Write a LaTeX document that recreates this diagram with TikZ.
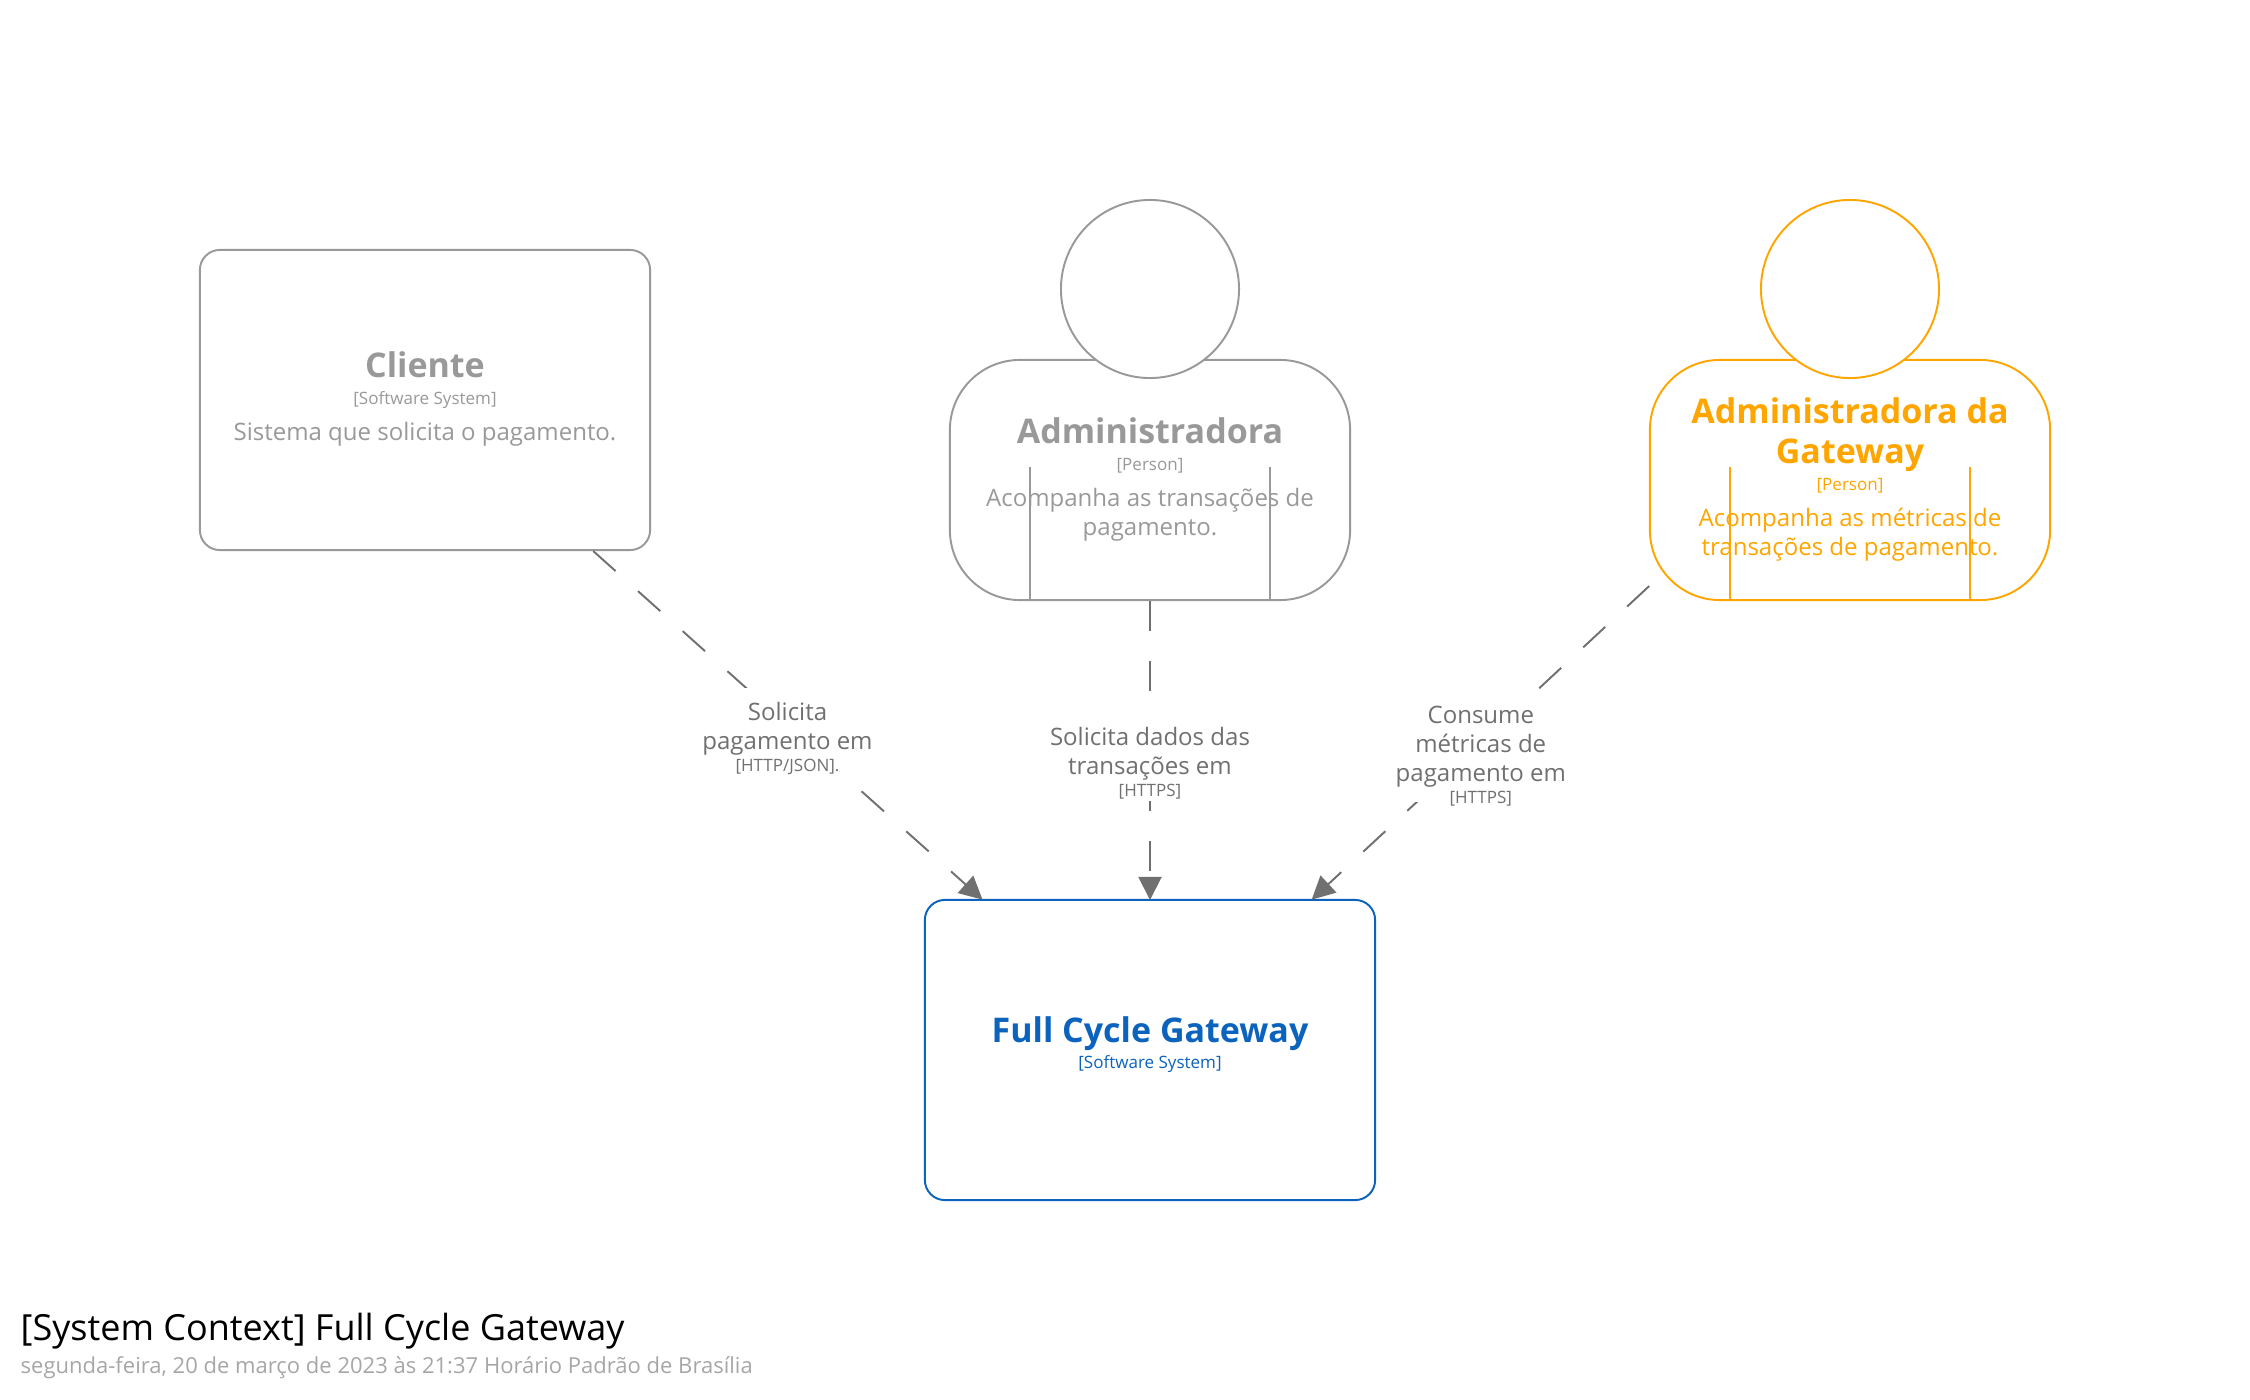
\documentclass[tikz,border=0pt]{standalone}
\usepackage{fontspec}
\setmainfont{Open Sans}
\usetikzlibrary{positioning,arrows.meta}

\definecolor{softgray}{HTML}{999999}
\definecolor{relgray}{HTML}{707070}
\definecolor{gatewayblue}{HTML}{0B63BD}
\definecolor{adminorange}{HTML}{FFA500}
\definecolor{dategray}{HTML}{A6A6A6}

% font sizes, 1 px = 0.01cm
\newcommand{\namefont}{\fontsize{9.67}{11.6}\bfseries\selectfont}
\newcommand{\metafont}{\fontsize{4.84}{7.6}\selectfont}
\newcommand{\descfont}{\fontsize{6.83}{8.25}\selectfont}
\newcommand{\reltechfont}{\fontsize{4.84}{5.8}\selectfont}

\tikzset{
    softbox/.style={draw=#1, text=#1, fill=white, line width=0.55pt, rounded corners=0.2cm,
        minimum width=4.5cm, minimum height=3cm, text width=4.2cm, align=flush center, inner sep=0pt},
    personbody/.style={draw=#1, text=#1, line width=0.55pt, rounded corners=0.7cm,
        minimum width=4cm, minimum height=2.4cm, text width=3.6cm, align=flush center, inner sep=0pt},
    personhead/.style={draw=#1, fill=white, line width=0.55pt, circle, minimum size=1.78cm, inner sep=0pt},
    personbox/.style={minimum width=4cm, minimum height=4cm, inner sep=0pt},
    personarm/.style={draw=#1, line width=0.55pt},
    rel/.style={draw=relgray, line width=0.55pt, dash pattern=on 0.3cm off 0.3cm, shorten >=-0.3pt,
        -{Triangle[length=0.23cm,width=0.23cm,fill=relgray,sep=0pt]}},
    rellabel/.style={text=relgray, fill=white, font=\descfont, align=center, inner xsep=0pt, inner ysep=4.2pt, yshift=-1.2pt},
    reltech/.style={text=relgray, fill=white, font=\reltechfont, inner xsep=0pt, inner ysep=0.5pt}
}

\begin{document}
\begin{tikzpicture}[x=0.01cm, y=-0.01cm]
    \useasboundingbox (0,0) rectangle (2250,1400);

    % Software systems
    \node[softbox=softgray] (cliente) at (425,400) {
        {\namefont Cliente\par}{\metafont [Software System]\par}\vspace{2pt}{\descfont Sistema que solicita o pagamento.\par}\vspace{0.4pt}};
    \node[softbox=gatewayblue] (gateway) at (1150,1050) {
        {\namefont Full Cycle Gateway\par}{\metafont [Software System]\par}\vspace{3pt}};

    % Administradora
    \node[personbox] (admin) at (1150,400) {};
    \node[personbody=softgray] (adminbody) at (1150,480) {
        {\namefont Administradora\par}{\metafont [Person]\par}\vspace{2pt}{\descfont Acompanha as transações de\\pagamento.\par}\vspace{0.4pt}};
    \coordinate (adminarmleft) at (1030,467);
    \coordinate (adminarmright) at (1270,467);
    \draw[personarm=softgray] (adminarmleft) -- (adminarmleft |- adminbody.south);
    \draw[personarm=softgray] (adminarmright) -- (adminarmright |- adminbody.south);
    \node[personhead=softgray] (adminhead) at (1150,289) {};

    % Administradora da Gateway
    \node[personbox] (gwadmin) at (1850,400) {};
    \node[personbody=adminorange] (gwadminbody) at (1850,480) {
        {\namefont Administradora da\\Gateway\par}{\metafont [Person]\par}\vspace{2pt}{\descfont Acompanha as métricas de\\transações de pagamento.\par}\vspace{0.4pt}};
    \coordinate (gwadminarmleft) at (1730,467);
    \coordinate (gwadminarmright) at (1970,467);
    \draw[personarm=adminorange] (gwadminarmleft) -- (gwadminarmleft |- gwadminbody.south);
    \draw[personarm=adminorange] (gwadminarmright) -- (gwadminarmright |- gwadminbody.south);
    \node[personhead=adminorange] (gwadminhead) at (1850,289) {};

    % Relationships
    \draw[rel] (cliente) -- (gateway)
        node[rellabel, midway] (clientelabel) {Solicita\\pagamento em};
    \node[reltech, below=-4.2pt of clientelabel] (clientetech) {[HTTP/JSON].};
    \draw[rel] (admin) -- (gateway)
        node[rellabel, midway] (adminlabel) {Solicita dados das\\transações em};
    \node[reltech, below=-4.2pt of adminlabel] (admintech) {[HTTPS]};
    \draw[rel] (gwadmin) -- (gateway)
        node[rellabel, midway] (gwadminlabel) {Consume\\métricas de\\pagamento em};
    \node[reltech, below=-4.2pt of gwadminlabel] (gwadmintech) {[HTTPS]};

    % Title
    \node[anchor=west, inner sep=0pt, font=\fontsize{10.24}{12.3}\selectfont] (title) at (20,1331) {[System Context] Full Cycle Gateway};
    \node[anchor=west, inner sep=0pt, text=dategray, font=\fontsize{6.26}{7.5}\selectfont] (date) at (20,1368) {segunda-feira, 20 de março de 2023 às 21:37 Horário Padrão de Brasília};
\end{tikzpicture}
\end{document}
